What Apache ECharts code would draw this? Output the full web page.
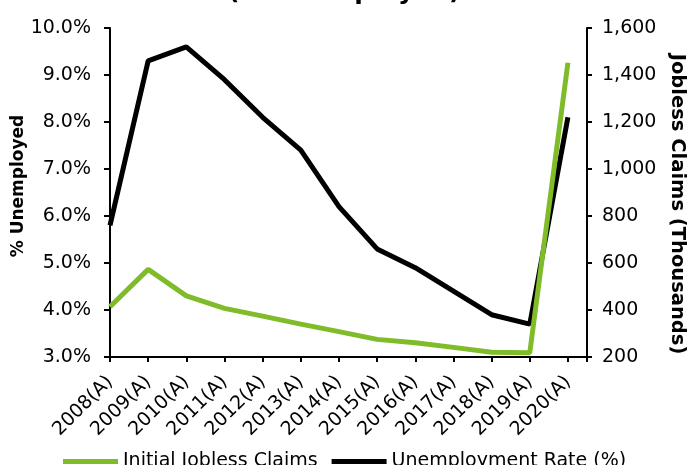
<!DOCTYPE html>
<html>
<head>
<meta charset="utf-8">
<script src="https://cdn.jsdelivr.net/npm/echarts@6/dist/echarts.min.js"></script>
<style>html,body{margin:0;padding:0;background:#fff}#c{width:694px;height:465px}</style>
</head>
<body>
<div id="c"></div>
<script>
const categories = ['2008(A)','2009(A)','2010(A)','2011(A)','2012(A)','2013(A)','2014(A)','2015(A)','2016(A)','2017(A)','2018(A)','2019(A)','2020(A)'];
const unemploymentRate = [5.8, 9.3, 9.6, 8.9, 8.1, 7.4, 6.2, 5.3, 4.9, 4.4, 3.9, 3.7, 8.1];
const joblessClaims = [414, 573, 460, 407, 374, 340, 308, 275, 261, 241, 220, 218, 1452];
const leftTicks = [3, 10, 1];
const rightTicks = [200, 1600, 200];

const FONT = 'DejaVu Sans';
const chart = echarts.init(document.getElementById('c'));
chart.setOption({
  animation: false,
  title: {
    text: '(% Unemployed)',
    left: 223,
    top: -25,
    textStyle: {fontFamily: FONT, fontSize: 25, fontWeight: 'bold', color: '#000'}
  },
  legend: {
    data: ['Initial Jobless Claims', 'Unemployment Rate (%)'],
    left: 58, top: 447,
    itemWidth: 55, itemHeight: 5, itemGap: 14,
    icon: 'rect',
    textStyle: {fontFamily: FONT, fontSize: 19, color: '#000'}
  },
  grid: {left: 110, right: 107, top: 28, bottom: 108, containLabel: false, outerBoundsMode: 'none'},
  xAxis: {
    type: 'value', min: 0, max: categories.length - 0.5, interval: 1,
    splitLine: {show: false},
    axisLine: {lineStyle: {color: '#000', width: 2}},
    axisTick: {show: true, length: 5, lineStyle: {color: '#000', width: 2}},
    axisLabel: {
      rotate: 45, margin: 22, fontFamily: FONT, fontSize: 19, color: '#000',
      formatter: v => Number.isInteger(v) ? (categories[v] || '') : ''
    }
  },
  yAxis: [{
    type: 'value', min: leftTicks[0], max: leftTicks[1], interval: leftTicks[2],
    name: '% Unemployed', nameLocation: 'middle', nameGap: 83, nameMoveOverlap: false,
    nameTextStyle: {fontFamily: FONT, fontSize: 17, fontWeight: 'bold', color: '#000', padding: [0, 0, 0, 13]},
    splitLine: {show: false},
    axisLine: {show: true, lineStyle: {color: '#000', width: 2}},
    axisTick: {show: true, length: 6, lineStyle: {color: '#000', width: 2}},
    axisLabel: {margin: 19, fontFamily: FONT, fontSize: 19, color: '#000', formatter: v => v.toFixed(1) + '%'}
  }, {
    type: 'value', min: rightTicks[0], max: rightTicks[1], interval: rightTicks[2],
    name: 'Jobless Claims (Thousands)', nameLocation: 'middle', nameGap: 80, nameRotate: -90, nameMoveOverlap: false,
    nameTextStyle: {fontFamily: FONT, fontSize: 19.5, fontWeight: 'bold', color: '#000', padding: [0, 0, 0, 23]},
    splitLine: {show: false},
    axisLine: {show: true, lineStyle: {color: '#000', width: 2}},
    axisTick: {show: true, length: 5, lineStyle: {color: '#000', width: 2}},
    axisLabel: {margin: 15, fontFamily: FONT, fontSize: 19, color: '#000', formatter: v => v.toLocaleString('en-US')}
  }],
  series: [{
    name: 'Unemployment Rate (%)', type: 'line', yAxisIndex: 0,
    data: unemploymentRate.map((v, i) => [i, v]),
    showSymbol: false, color: '#000',
    lineStyle: {width: 5, color: '#000'}
  }, {
    name: 'Initial Jobless Claims', type: 'line', yAxisIndex: 1,
    data: joblessClaims.map((v, i) => [i, v]),
    showSymbol: false, color: '#80bc2a',
    lineStyle: {width: 5, color: '#80bc2a'}
  }]
});
</script>
</body>
</html>
